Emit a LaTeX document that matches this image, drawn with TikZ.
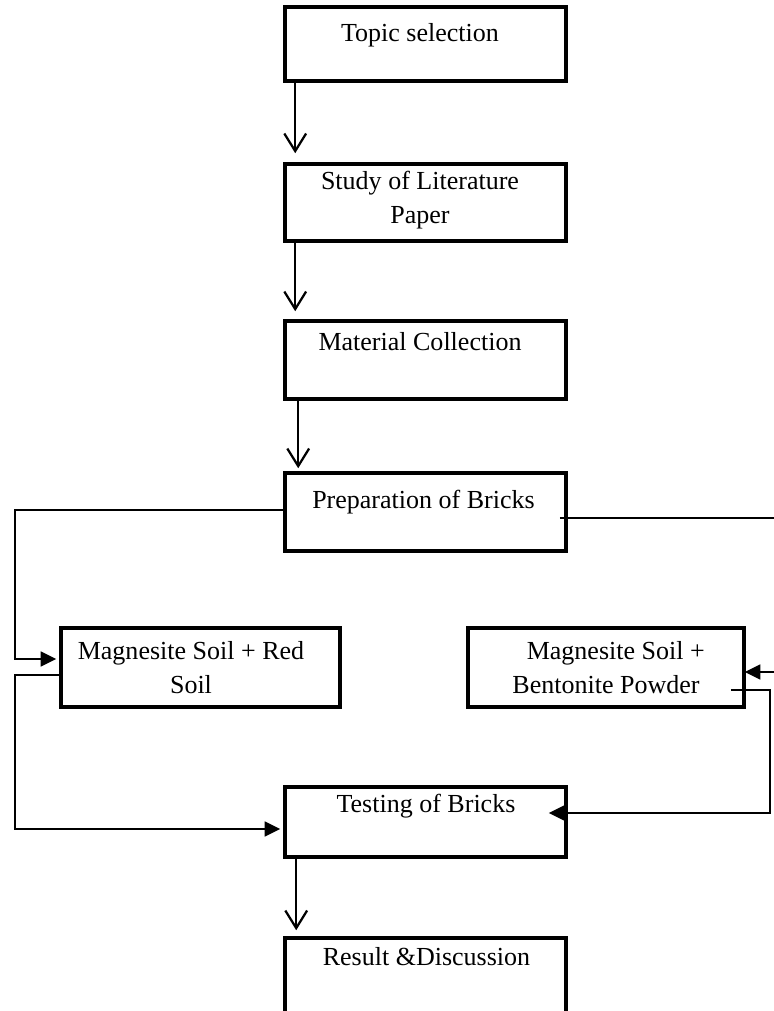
\documentclass[tikz,border=0pt]{standalone}
\usepackage{fontspec}
\setmainfont{Liberation Serif}
\usetikzlibrary{arrows.meta,calc}

\begin{document}
\begin{tikzpicture}[x=0.025cm, y=-0.025cm,
  box/.style={draw, line width=2.5pt, inner sep=0pt, minimum width=7.025cm},
  txt/.style={anchor=base, inner sep=0pt, align=center, font=\fontsize{18.5}{23.5}\selectfont},
  downarrow/.style={line width=1.6pt, -{Straight Barb[length=12.5pt, width=15.5pt]}},
  sidearrow/.style={line width=1.6pt, -{Triangle[length=11pt, width=10.5pt]}}]
\clip (0,0) rectangle (774,1011); % page
\node[box, minimum height=1.85cm] (topic) at (425.5,44) {}; % box Topic
\node[box, minimum height=1.925cm] (study) at (425.5,202.5) {}; % box Study
\node[box, minimum height=1.95cm] (material) at (425.5,360) {}; % box Material
\node[box, minimum height=1.95cm] (prep) at (425.5,512) {}; % box Preparation
\node[box, minimum height=1.975cm, minimum width=6.975cm] (red) at (200.5,667.5) {}; % box red soil
\node[box, minimum height=1.975cm, minimum width=6.9cm] (bent) at (606,667.5) {}; % box bentonite
\node[box, minimum height=1.75cm] (testing) at (425.5,822) {}; % box Testing
\node[box, minimum height=1.95cm] (result) at (425.5,977) {}; % box Result
\node[txt] (topictext) at (420,42) {Topic selection};
\node[txt] (studytext) at (420,223) {Study of Literature\\Paper}; % base = last line
\node[txt] (materialtext) at (420,350) {Material Collection};
\node[txt] (preptext) at (423.5,508) {Preparation of Bricks};
\node[txt] (redtext) at (191,693) {Magnesite Soil + Red\\Soil};
\node[txt] (benttext) at (606,693) {\hspace*{0.75em}Magnesite Soil +\\Bentonite Powder};
\node[txt] (testingtext) at (426,812) {Testing of Bricks};
\node[txt] (resulttext) at (426.5,965) {Result \&Discussion};
\draw[downarrow] ($(topic.south west)+(12,0)$) -- ($(study.north west)+(12,-9)$); % topic -> study
\draw[downarrow] ($(study.south west)+(12,0)$) -- ($(material.north west)+(12,-8)$); % study -> material
\draw[downarrow] ($(material.south west)+(15,0)$) -- ($(prep.north west)+(15,-3)$); % material -> prep
\draw[sidearrow] ($(prep.west)+(0,-2)$) -| ($(red.west)+(-44,-8.5)$) -- ($(red.west)+(-3,-8.5)$); % prep -> red soil
\draw[sidearrow] ($(prep.east)+(-8,6)$) -- ($(prep.east)+(234,6)$) |- ($(bent.east)+(-1,4.5)$); % prep -> bentonite
\draw[sidearrow] ($(red.west)+(2,7.5)$) -| ($(testing.west)+(-268,7)$) -- ($(testing.west)+(-3,7)$); % red soil -> testing
\draw[sidearrow] ($(bent.east)+(-15,22.5)$) -| ($(testing.east)+(202,-9)$) -- ($(testing.east)+(-19,-9)$); % bentonite -> testing
\draw[downarrow] ($(testing.south west)+(13,0)$) -- ($(result.north west)+(13,-6)$); % testing -> result
\end{tikzpicture}
\end{document}
